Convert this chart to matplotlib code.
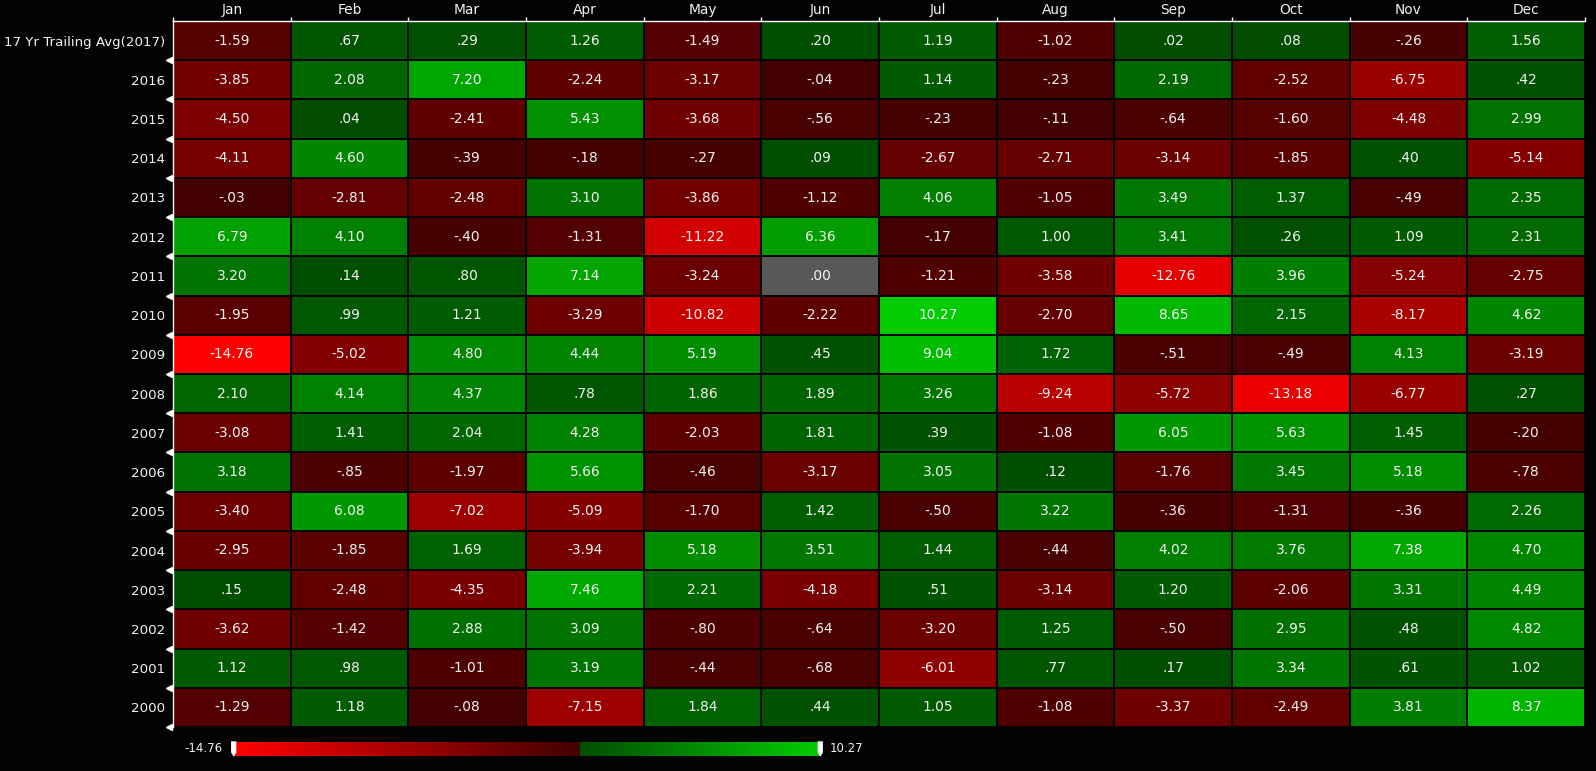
import numpy as np
import matplotlib
matplotlib.use("Agg")
import matplotlib.pyplot as plt
from matplotlib.colors import LinearSegmentedColormap, TwoSlopeNorm
from matplotlib.patches import Polygon

months = ["Jan", "Feb", "Mar", "Apr", "May", "Jun", "Jul", "Aug", "Sep", "Oct", "Nov", "Dec"]
row_labels = ["17 Yr Trailing Avg(2017)", "2016", "2015", "2014", "2013", "2012", "2011",
              "2010", "2009", "2008", "2007", "2006", "2005", "2004", "2003", "2002", "2001", "2000"]

avg_2017 = [-1.59, .67, .29, 1.26, -1.49, .20, 1.19, -1.02, .02, .08, -.26, 1.56]
y2016 = [-3.85, 2.08, 7.20, -2.24, -3.17, -.04, 1.14, -.23, 2.19, -2.52, -6.75, .42]
y2015 = [-4.50, .04, -2.41, 5.43, -3.68, -.56, -.23, -.11, -.64, -1.60, -4.48, 2.99]
y2014 = [-4.11, 4.60, -.39, -.18, -.27, .09, -2.67, -2.71, -3.14, -1.85, .40, -5.14]
y2013 = [-.03, -2.81, -2.48, 3.10, -3.86, -1.12, 4.06, -1.05, 3.49, 1.37, -.49, 2.35]
y2012 = [6.79, 4.10, -.40, -1.31, -11.22, 6.36, -.17, 1.00, 3.41, .26, 1.09, 2.31]
y2011 = [3.20, .14, .80, 7.14, -3.24, .00, -1.21, -3.58, -12.76, 3.96, -5.24, -2.75]
y2010 = [-1.95, .99, 1.21, -3.29, -10.82, -2.22, 10.27, -2.70, 8.65, 2.15, -8.17, 4.62]
y2009 = [-14.76, -5.02, 4.80, 4.44, 5.19, .45, 9.04, 1.72, -.51, -.49, 4.13, -3.19]
y2008 = [2.10, 4.14, 4.37, .78, 1.86, 1.89, 3.26, -9.24, -5.72, -13.18, -6.77, .27]
y2007 = [-3.08, 1.41, 2.04, 4.28, -2.03, 1.81, .39, -1.08, 6.05, 5.63, 1.45, -.20]
y2006 = [3.18, -.85, -1.97, 5.66, -.46, -3.17, 3.05, .12, -1.76, 3.45, 5.18, -.78]
y2005 = [-3.40, 6.08, -7.02, -5.09, -1.70, 1.42, -.50, 3.22, -.36, -1.31, -.36, 2.26]
y2004 = [-2.95, -1.85, 1.69, -3.94, 5.18, 3.51, 1.44, -.44, 4.02, 3.76, 7.38, 4.70]
y2003 = [.15, -2.48, -4.35, 7.46, 2.21, -4.18, .51, -3.14, 1.20, -2.06, 3.31, 4.49]
y2002 = [-3.62, -1.42, 2.88, 3.09, -.80, -.64, -3.20, 1.25, -.50, 2.95, .48, 4.82]
y2001 = [1.12, .98, -1.01, 3.19, -.44, -.68, -6.01, .77, .17, 3.34, .61, 1.02]
y2000 = [-1.29, 1.18, -.08, -7.15, 1.84, .44, 1.05, -1.08, -3.37, -2.49, 3.81, 8.37]

data = np.array([avg_2017, y2016, y2015, y2014, y2013, y2012, y2011, y2010, y2009,
                 y2008, y2007, y2006, y2005, y2004, y2003, y2002, y2001, y2000])

vmin, vmax = data.min(), data.max()

cdict = {
    "red":   [(0.0, 1.0, 1.0), (0.5, 0.26, 0.0), (1.0, 0.0, 0.0)],
    "green": [(0.0, 0.0, 0.0), (0.5, 0.0, 0.30), (1.0, 0.80, 0.80)],
    "blue":  [(0.0, 0.0, 0.0), (0.5, 0.0, 0.0), (1.0, 0.0, 0.0)],
}
cmap = LinearSegmentedColormap("rg", cdict, N=512)
cmap.set_bad("#585858")
norm = TwoSlopeNorm(vmin=vmin, vcenter=0.0, vmax=vmax)

W, H = 1596, 771
fig = plt.figure(figsize=(W / 100, H / 100), dpi=100, facecolor="#020202")

ax = fig.add_axes([173 / W, 1 - 727 / H, (1585 - 173) / W, (727 - 21) / H])
ax.set_facecolor("#020202")
masked = np.ma.masked_where(data == 0, data)
ax.pcolormesh(np.arange(len(months) + 1), np.arange(len(row_labels) + 1), masked,
              cmap=cmap, norm=norm, edgecolors="#050505", linewidth=1.2)
ax.set_xlim(0, len(months))
ax.set_ylim(len(row_labels), 0)

def fmt(v):
    s = f"{v:.2f}"
    if s.startswith("0."):
        s = s[1:]
    elif s.startswith("-0."):
        s = "-" + s[2:]
    return s

FONT = "DejaVu Sans"
FS = 9.9
txtc = "#f2f2f2"
for i in range(data.shape[0]):
    for j in range(data.shape[1]):
        ax.text(j + 0.5, i + 0.5, fmt(data[i, j]), ha="center", va="center",
                color=txtc, fontsize=FS, family=FONT)

ax.xaxis.tick_top()
ax.set_xticks(np.arange(len(months)) + 0.5)
ax.set_xticklabels(months, color=txtc, fontsize=FS, family=FONT)
ax.set_yticks(np.arange(len(row_labels)) + 0.5)
ax.set_yticklabels(row_labels, color=txtc, fontsize=9.6, family=FONT)
ax.tick_params(axis="both", length=0)
ax.tick_params(axis="x", pad=3)
ax.tick_params(axis="y", pad=5.5)

for s in ["bottom", "right"]:
    ax.spines[s].set_visible(False)
for s in ["top", "left"]:
    ax.spines[s].set_color("white")
    ax.spines[s].set_linewidth(1.0)

# small column boundary ticks on top, triangles on left
ax.set_xticks(np.arange(len(months) + 1), minor=True)
ax.tick_params(axis="x", which="minor", length=3, color="white", width=1, top=True, bottom=False)
bounds = np.arange(1, len(row_labels) + 1)
ax.plot(np.full(len(bounds), -0.03), bounds, linestyle="none", marker="<", markersize=4.5,
        color="white", clip_on=False)

# colorbar
cax = fig.add_axes([234 / W, 1 - 756 / H, (820 - 234) / W, 14 / H])
grad = np.linspace(vmin, vmax, 600)[None, :]
cax.imshow(grad, aspect="auto", cmap=cmap, norm=norm,
           extent=[vmin, vmax, 0, 1])
cax.set_xlim(vmin, vmax)
cax.set_xticks([])
cax.set_yticks([])
for s in cax.spines.values():
    s.set_visible(False)
cax.text(-0.019, 0.5, fmt(vmin), transform=cax.transAxes, ha="right", va="center",
         color=txtc, fontsize=8.5, family=FONT)
cax.text(1.016, 0.5, fmt(vmax), transform=cax.transAxes, ha="left", va="center",
         color=txtc, fontsize=8.5, family=FONT)
# slider handles
dx = 0.009
for x0, sgn in [(0.004, 1), (0.996, -1)]:
    poly = Polygon([(x0, 1.05), (x0 - sgn * dx, 1.05), (x0 - sgn * dx, 0.25),
                    (x0 - sgn * dx * 0.5, -0.05), (x0, 0.25)],
                   closed=True, transform=cax.transAxes, facecolor="white",
                   edgecolor="none", clip_on=False)
    cax.add_patch(poly)

fig.savefig("out.png", dpi=100, facecolor=fig.get_facecolor())
